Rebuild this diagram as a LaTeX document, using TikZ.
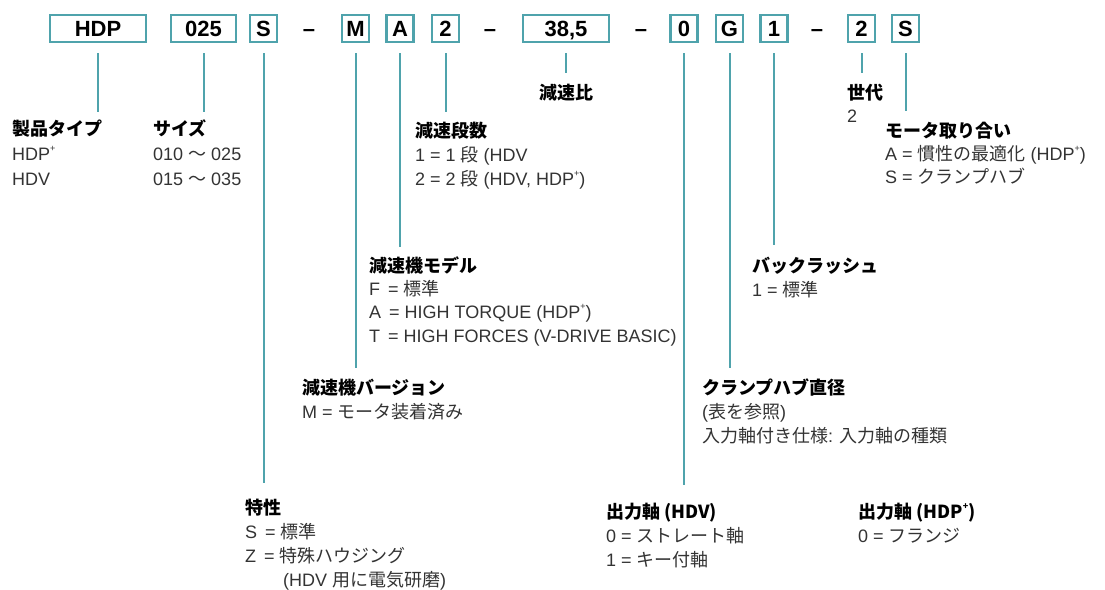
\documentclass[tikz,border=0pt]{standalone}
\usepackage{fontspec}
\setmainfont{Liberation Sans}
\newfontfamily\jpfont{Noto Sans CJK JP}
\newcommand{\J}[1]{{\jpfont #1}}
\newcommand{\pls}{\raisebox{0.5em}{\fontsize{9}{9}\selectfont +}}
\newcommand{\hd}[1]{\textcolor{black}{\jpfont\bfseries #1}}
\definecolor{tealc}{HTML}{4FA3AC}
\definecolor{bodyc}{HTML}{333333}
\begin{document}
\begin{tikzpicture}[x=1pt,y=-1pt,
  codebox/.style={draw=tealc, line width=2.2pt, minimum height=27pt, inner sep=0pt,
    text height=15.8pt, text depth=0pt,
    font=\fontsize{22}{22}\selectfont\bfseries, text=black},
  smallbox/.style={codebox, minimum width=27pt},
  sepdash/.style={codebox, draw=none},
  lead/.style={draw=tealc, line width=2pt, shorten <=10pt},
  lbl/.style={anchor=base west, inner sep=0pt, align=left, text=bodyc,
    font=\fontsize{18}{24}\selectfont}]
\useasboundingbox (0,0) rectangle (1105,589);

% code boxes
\node[codebox, minimum width=96pt] (bHDP) at (98,28.5) {HDP};
\node[codebox, minimum width=65pt] (bSize) at (203.5,28.5) {025};
\node[smallbox] (bS) at (263.5,28.5) {S};
\node[sepdash] (d1) at (309,28.5) {–};
\node[smallbox] (bM) at (355.5,28.5) {M};
\node[smallbox] (bA) at (400,28.5) {A};
\node[smallbox] (bTwo) at (445.5,28.5) {2};
\node[sepdash] (d2) at (490,28.5) {–};
\node[codebox, minimum width=86pt] (bRatio) at (566,28.5) {38,5};
\node[sepdash] (d3) at (641,28.5) {–};
\node[smallbox] (bZero) at (684,28.5) {0};
\node[smallbox] (bG) at (729.5,28.5) {G};
\node[smallbox] (bOne) at (774,28.5) {1};
\node[sepdash] (d4) at (817,28.5) {–};
\node[smallbox] (bGen) at (861.5,28.5) {2};
\node[smallbox] (bS2) at (905.5,28.5) {S};

% end points of leaders
\coordinate (eHDP) at (98,112);
\coordinate (eSize) at (203.5,112);
\coordinate (eS) at (263.5,483);
\coordinate (eM) at (355.5,368);
\coordinate (eA) at (400,247);
\coordinate (eTwo) at (445.5,112);
\coordinate (eRatio) at (566,73);
\coordinate (eZero) at (684,485);
\coordinate (eG) at (729.5,368);
\coordinate (eOne) at (774,245);
\coordinate (eGen) at (861.5,73);
\coordinate (eS2) at (905.5,111);

\draw[lead] (bHDP.south) -- (eHDP);
\draw[lead] (bSize.south) -- (eSize);
\draw[lead] (bS.south) -- (eS);
\draw[lead] (bM.south) -- (eM);
\draw[lead] (bA.south) -- (eA);
\draw[lead] (bTwo.south) -- (eTwo);
\draw[lead] (bRatio.south) -- (eRatio);
\draw[lead] (bZero.south) -- (eZero);
\draw[lead] (bG.south) -- (eG);
\draw[lead] (bOne.south) -- (eOne);
\draw[lead] (bGen.south) -- (eGen);
\draw[lead] (bS2.south) -- (eS2);

% labels (anchor = baseline of the last line)
\node[lbl, font=\fontsize{18}{25}\selectfont] (lType) at (12,185) {\hd{製品タイプ}\\HDP\pls\\HDV};
\node[lbl, font=\fontsize{18}{25}\selectfont] (lSize) at (153,185) {\hd{サイズ}\\010 \J{〜} 025\\015 \J{〜} 035};
\node[lbl] (lStage) at (415,185) {\hd{減速段数}\\1 = 1 \J{段} (HDV\\2 = 2 \J{段} (HDV, HDP\pls)};
\node[lbl, anchor=base] (lRatio) at (566,99) {\hd{減速比}};
\node[lbl, font=\fontsize{18}{23}\selectfont] (lGen) at (847,122) {\hd{世代}\\2};
\node[lbl, font=\fontsize{18}{23}\selectfont] (lMot) at (885,183) {\hd{モータ取り合い}\\A = \J{慣性の最適化} (HDP\pls)\\S = \J{クランプハブ}};
\node[lbl, font=\fontsize{18}{23.3}\selectfont] (lModel) at (369,342) {\hd{減速機モデル}\\F \,= \J{標準}\\A \,= HIGH TORQUE (HDP\pls)\\T \,= HIGH FORCES (V-DRIVE BASIC)};
\node[lbl] (lBack) at (752,296) {\hd{バックラッシュ}\\1 = \J{標準}};
\node[lbl] (lVer) at (302,418) {\hd{減速機バージョン}\\M = \J{モータ装着済み}};
\node[lbl] (lClamp) at (702,442) {\hd{クランプハブ直径}\\(\J{表を参照})\\\J{入力軸付き仕様}: \J{入力軸の種類}};
\node[lbl] (lChar) at (245,586) {\hd{特性}\\S \,= \J{標準}\\Z \,= \J{特殊ハウジング}\\\hspace*{38pt}(HDV \J{用に電気研磨})};
\node[lbl] (lOutV) at (606,566) {\hd{出力軸 (HDV)}\\0 = \J{ストレート軸}\\1 = \J{キー付軸}};
\node[lbl] (lOutP) at (858,542) {\hd{出力軸 (HDP\pls)}\\0 = \J{フランジ}};
\end{tikzpicture}
\end{document}
